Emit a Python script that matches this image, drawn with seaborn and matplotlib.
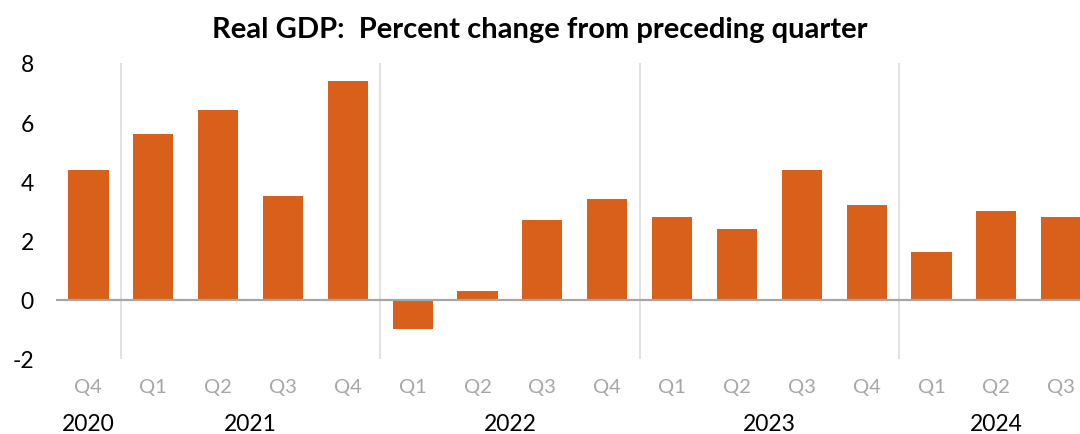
import pandas as pd
import seaborn as sns
import matplotlib.pyplot as plt
from matplotlib.transforms import blended_transform_factory

years = ['2020', '2021', '2021', '2021', '2021',
         '2022', '2022', '2022', '2022',
         '2023', '2023', '2023', '2023',
         '2024', '2024', '2024']
quarters = ['Q4', 'Q1', 'Q2', 'Q3', 'Q4',
            'Q1', 'Q2', 'Q3', 'Q4',
            'Q1', 'Q2', 'Q3', 'Q4',
            'Q1', 'Q2', 'Q3']
gdp_change = [4.4, 5.6, 6.4, 3.5, 7.4,
              -1.0, 0.3, 2.7, 3.4,
              2.8, 2.4, 4.4, 3.2,
              1.6, 3.0, 2.8]

df = pd.DataFrame({'Year': years, 'Quarter': quarters, 'GDP': gdp_change})
df['Period'] = df['Year'] + ' ' + df['Quarter']

sns.set_style('white')
plt.rcParams['font.family'] = ['Lato', 'DejaVu Sans']
plt.rcParams['axes.unicode_minus'] = False

fig = plt.figure(figsize=(10.8, 4.35), dpi=100)
ax = fig.add_axes([56 / 1080, 75 / 435, 1 - 56 / 1080, 296 / 435])

sns.barplot(data=df, x='Period', y='GDP', color='#D9601A', saturation=1,
            width=0.62, ax=ax, edgecolor='none')

ax.set_ylim(-2, 8)
ax.set_xlim(-0.5, -0.5 + (1080 - 56) / 64.85)
ax.set_yticks(range(-2, 9, 2))
ax.set_xlabel('')
ax.set_ylabel('')
sns.despine(ax=ax, left=True, bottom=True, right=True, top=True)

ax.axhline(0, color='#A6A6A6', lw=1.6, zorder=3)

# year separators and labels
group_start = [0]
for i in range(1, len(years)):
    if years[i] != years[i - 1]:
        group_start.append(i)
for s in group_start[1:]:
    ax.axvline(s - 0.5, color='#D9D9D9', lw=1.1, zorder=0)

trans = blended_transform_factory(ax.transData, ax.transAxes)
bounds = group_start + [len(years)]
for a, b in zip(bounds[:-1], bounds[1:]):
    ax.text((a + b - 1) / 2, -65 / 296, years[a], transform=trans,
            ha='center', va='center', fontsize=16.5, color='black')

ax.set_xticks(range(len(quarters)))
ax.set_xticklabels(quarters, color='#A6A6A6', fontsize=14.5)
ax.tick_params(axis='x', length=0, pad=14)
ax.tick_params(axis='y', length=0, pad=16, labelsize=16.5, labelcolor='black')

fig.suptitle('Real GDP:  Percent change from preceding quarter',
             fontsize=21, fontweight='bold', color='black', y=0.96)

fig.savefig('out.png', dpi=100)
